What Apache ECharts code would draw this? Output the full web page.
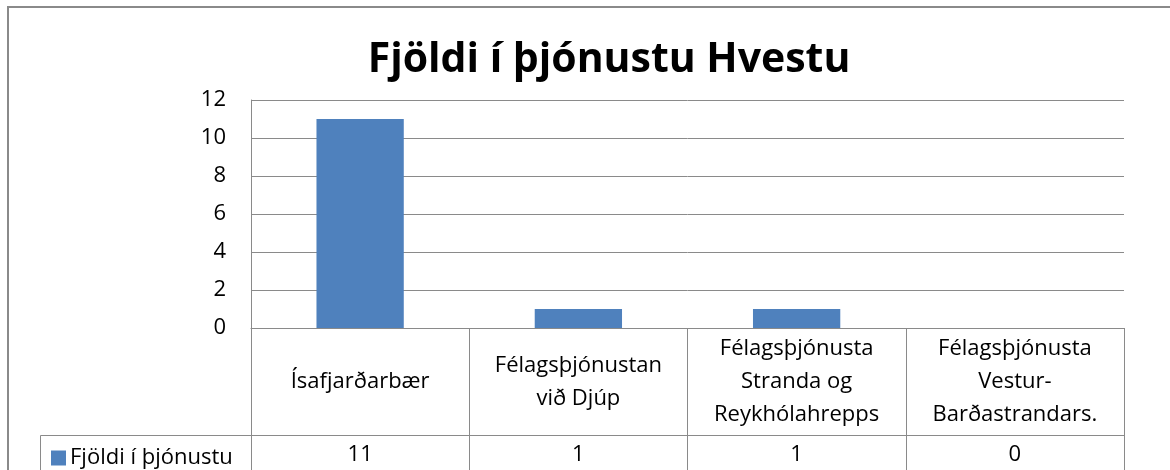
<!DOCTYPE html>
<html>
<head>
<meta charset="utf-8">
<script src="https://cdn.jsdelivr.net/npm/echarts@6/dist/echarts.min.js"></script>
<style>
  html, body { margin: 0; padding: 0; background: #fff; }
  #chart { width: 1170px; height: 470px; }
</style>
</head>
<body>
<div id="chart"></div>
<script>
  var categories = [
    'Ísafjarðarbær',
    'Félagsþjónustan\nvið Djúp',
    'Félagsþjónusta\nStranda og\nReykhólahrepps',
    'Félagsþjónusta\nVestur-\nBarðastrandars.'
  ];
  var values = [11, 1, 1, 0];
  var seriesName = 'Fjöldi í þjónustu';
  var yTicks = [0, 2, 4, 6, 8, 10, 12];

  var gray = '#8a8a8a';
  var font = 'Open Sans';
  var labelSize = 22;

  var chart = echarts.init(document.getElementById('chart'));
  var option = {
    animation: false,
    backgroundColor: '#fff',
    title: {
      text: 'Fjöldi í þjónustu Hvestu',
      left: 604,
      top: 35,
      textAlign: 'center',
      textStyle: { fontFamily: font, fontWeight: 'bold', fontSize: 41, color: '#000' }
    },
    legend: {
      left: 46,
      top: 442,
      icon: 'rect',
      itemWidth: 15,
      itemHeight: 15,
      itemGap: 6,
      data: [seriesName],
      textStyle: { fontFamily: font, fontSize: labelSize, color: '#000', padding: [0, 0, 0, -1] }
    },
    grid: { left: 251, right: 46, top: 100, bottom: 142, containLabel: false },
    xAxis: [{
      type: 'category',
      data: categories,
      axisLine: { show: true, lineStyle: { color: gray, width: 1 } },
      axisTick: { show: true, alignWithLabel: false, length: 142, lineStyle: { color: gray, width: 1 } },
      axisLabel: {
        interval: 0, margin: 54, verticalAlign: 'middle', lineHeight: 33,
        fontFamily: font, fontSize: labelSize, color: '#000', align: 'center'
      }
    }, {
      type: 'category',
      data: categories,
      position: 'bottom',
      offset: 107,
      axisLine: { show: true, lineStyle: { color: gray, width: 1 } },
      axisTick: { show: false },
      axisLabel: {
        interval: 0, margin: 20, verticalAlign: 'middle',
        fontFamily: font, fontSize: labelSize, color: '#000',
        formatter: function (v, i) { return String(values[i]); }
      }
    }],
    yAxis: {
      type: 'value',
      min: yTicks[0],
      max: yTicks[yTicks.length - 1],
      interval: 2,
      axisLine: { show: true, lineStyle: { color: gray, width: 1 } },
      axisTick: { show: false },
      axisLabel: { margin: 25, fontFamily: font, fontSize: labelSize, color: '#000' },
      splitLine: { show: true, lineStyle: { color: gray, width: 1 } }
    },
    series: [{
      name: seriesName,
      type: 'bar',
      data: values,
      barWidth: '40%',
      itemStyle: { color: '#4f81bd' }
    }],
    graphic: [
      // outer chart frame
      { type: 'rect', silent: true, shape: { x: 8, y: 7, width: 1200, height: 520 },
        style: { fill: 'none', stroke: gray, lineWidth: 2 } },
      // legend cell of the data table
      { type: 'polyline', silent: true, shape: { points: [[40.5, 475], [40.5, 435.5], [251, 435.5]] },
        style: { fill: 'none', stroke: gray, lineWidth: 1 } }
    ]
  };
  chart.setOption(option);
</script>
</body>
</html>
